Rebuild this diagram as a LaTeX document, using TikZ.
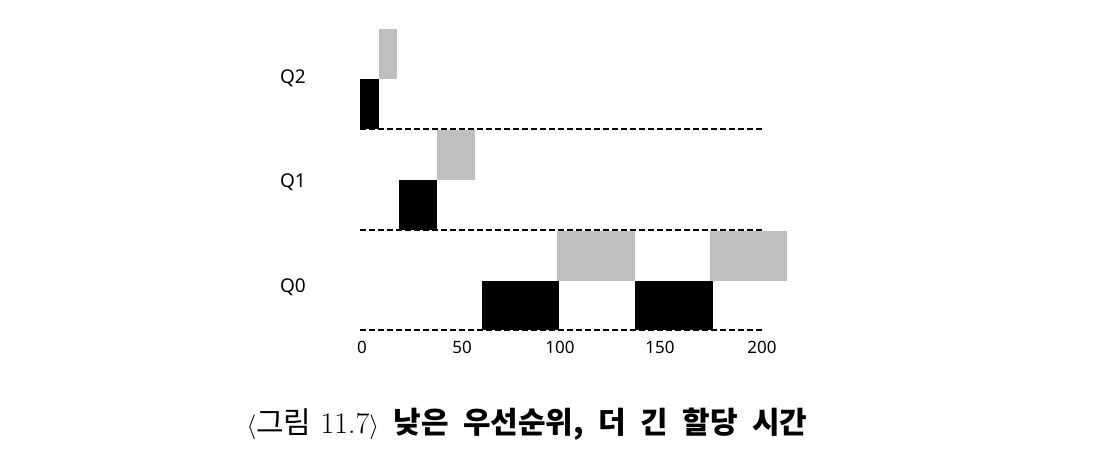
\documentclass[tikz,border=0pt]{standalone}
\usepackage{fontspec}
\setsansfont{Noto Sans}
\newfontfamily\cjk{Noto Sans CJK KR}[WordSpace={2.1}]
\usetikzlibrary{positioning}
\definecolor{mlqgray}{HTML}{BFBFBF}
\tikzset{
  mlqrun/.style={fill=black},
  mlqwait/.style={fill=mlqgray},
  mlqbase/.style={dash pattern=on 6pt off 3pt,line width=1.8pt},
  mlqqueue/.style={font=\sffamily\fontsize{19}{23}\selectfont},
  mlqtick/.style={font=\sffamily\fontsize{17}{20}\selectfont},
  mlqcaption/.style={font=\fontsize{30}{36}\selectfont}
}

\begin{document}
\begin{tikzpicture}[x=1pt,y=-1pt]
  \useasboundingbox (0,0) rectangle (1100,454);
  % queue levels
  \foreach \y in {129,230,330}
    \draw[mlqbase] (360,\y) -- (762,\y);
  \node[mlqqueue] (q2) at (293,78) {Q2};
  \node[mlqqueue] (q1) at (293,182) {Q1};
  \node[mlqqueue] (q0) at (293,287) {Q0};

  % Q2: quantum 10
  \fill[mlqrun] (360,79) rectangle (379,129);
  \fill[mlqwait] (379,29) rectangle (397,79);
  % Q1: quantum 20
  \fill[mlqrun] (399,180) rectangle (437,230);
  \fill[mlqwait] (437,130) rectangle (475,180);
  % Q0: quantum 40
  \fill[mlqrun] (482,281) rectangle (559,330);
  \fill[mlqwait] (557,231) rectangle (635,281);
  \fill[mlqrun] (635,281) rectangle (713,330);
  \fill[mlqwait] (710,231) rectangle (787,281);

  % time axis
  \foreach \t/\x in {0/362,50/462,100/560,150/660,200/762}
    \node[mlqtick] (t\t) at (\x,347) {\t};

  \node[mlqcaption] (cap) at (527,424)
    {$\langle${\cjk 그림} 11.7$\rangle${\cjk\bfseries{} 낮은 우선순위, 더 긴 할당 시간}};
\end{tikzpicture}
\end{document}
